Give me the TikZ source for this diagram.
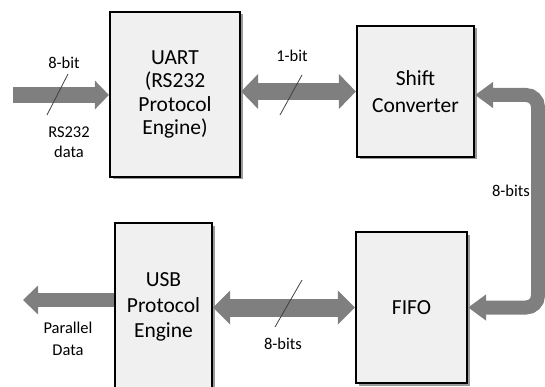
\documentclass[tikz,border=0pt]{standalone}
\usepackage{fontspec}
\setmainfont{Carlito}
\usetikzlibrary{arrows.meta,shadows}
\definecolor{boxgray}{HTML}{F0F0F0}
\definecolor{busgray}{HTML}{7F7F7F}
\tikzset{
  block/.style={draw=black, line width=2.2pt, fill=boxgray, align=center,
    font=\fontsize{21.5}{23.5}\selectfont,
    drop shadow={shadow xshift=2.5pt, shadow yshift=-2.5pt, fill=black!40, opacity=1}},
  bus/.style args={#1/#2/#3}{draw=busgray, line width=#1, arrows={-Triangle[length=#2,width=#3]}},
  dbus/.style args={#1/#2/#3}{draw=busgray, line width=#1, arrows={Triangle[length=#2,width=#3]-Triangle[length=#2,width=#3]}},
  tag/.style={align=center, font=\fontsize{16.5}{20}\selectfont},
  slash/.style={draw=black!75, line width=0.8pt}
}
\begin{document}
\begin{tikzpicture}[x=1pt, y=-1pt]
\useasboundingbox (0,0) rectangle (545,387);
% blocks
\node[block, minimum width=130pt, minimum height=165pt] (uart) at (175,94.5) {UART\\(RS232\\Protocol\\Engine)};
\node[block, minimum width=117pt, minimum height=131pt, font=\fontsize{21.5}{27}\selectfont] (shift) at (415.5,91.5) {Shift\\Converter};
\node[block, minimum width=111pt, minimum height=151pt] (fifo) at (411.5,307.5) {FIFO};
\node[block, minimum width=97pt, minimum height=168pt, font=\fontsize{21.5}{25.5}\selectfont] (usb) at (163.5,307) {USB\\Protocol\\Engine};
% buses
\coordinate (pin) at (13,95);
\coordinate (pout) at (23,300);
\coordinate (bend) at (538,200);
\draw[bus=16pt/14pt/28pt] (pin) -- (pin -| uart.west);
\draw[dbus=17pt/17pt/34pt] (uart.east |- shift.west) -- (shift.west);
\draw[dbus=14pt/18pt/25pt, rounded corners=12pt] ([yshift=-3.5pt]shift.east) -| (bend) |- (fifo.east);
\draw[dbus=18pt/17pt/33pt] (fifo.west) -- (fifo.west -| usb.east);
\draw[bus=14pt/15pt/28pt] (usb.west |- pout) -- (pout);
% bit-width marks
\foreach \xa/\ya/\xb/\yb in {68/74/47/115, 302/75/280/115, 302/280/275/327}
  \draw[slash] (\xa,\ya) -- (\xb,\yb);
\node[tag] (win) at (64,63) {8-bit};
\node[tag] (rsdata) at (69,142) {RS232\\data};
\node[tag] (wtop) at (292,56) {1-bit};
\node[tag] (wright) at (511,191) {8-bits};
\node[tag] (wlow) at (283,344) {8-bits};
\node[tag, font=\fontsize{16.5}{22}\selectfont] (pdata) at (68,339) {Parallel\\Data};
\end{tikzpicture}
\end{document}
